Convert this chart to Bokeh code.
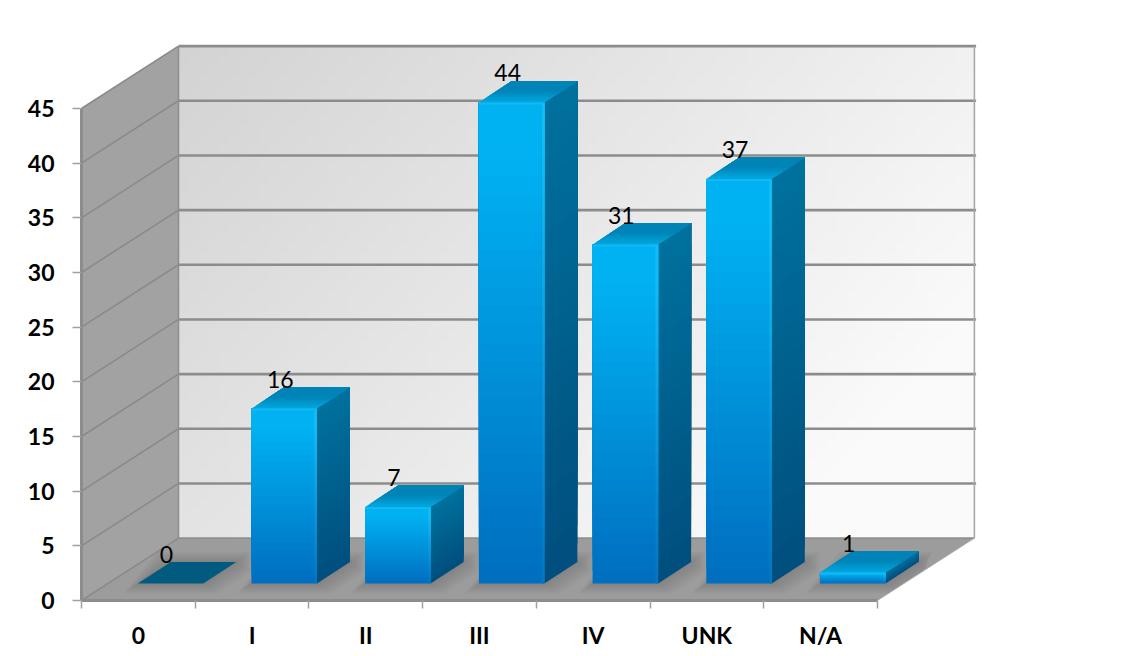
import numpy as np
from bokeh.models import ColumnDataSource, FixedTicker, Range1d
from bokeh.plotting import figure
from bokeh.embed import file_html
from bokeh.resources import INLINE
from bokeh.core.properties import value as fixed

categories = ["0", "I", "II", "III", "IV", "UNK", "N/A"]
values = [0, 16, 7, 44, 31, 37, 1]
y_ticks = [0, 5, 10, 15, 20, 25, 30, 35, 40, 45]

# layout of the oblique projection, expressed through the chart's own units
FRAME_W, FRAME_H = 1043, 592
PX_X, PX_Y = 113.7, 10.933
WALL_DX, WALL_DY = 97 / PX_X, 62.4 / PX_Y
BAR_W, BAR_DX, BAR_DY = 65.5 / PX_X, 33 / PX_X, 21.5 / PX_Y
BAR_BASE, BAR_OFFSET = 17 / PX_Y, 0.495
N = len(categories)
TOP = max(y_ticks)

p = figure(frame_width=FRAME_W, frame_height=FRAME_H, output_backend="svg", toolbar_location=None,
           x_range=Range1d(0, FRAME_W / PX_X), y_range=Range1d(0, FRAME_H / PX_Y),
           min_border_left=81, min_border_right=0, min_border_top=8, min_border_bottom=44,
           outline_line_color=None, background_fill_color="white", border_fill_color="white")
p.grid.visible = False


def mix(a, b, t):
    ca = [int(a[i:i + 2], 16) for i in (1, 3, 5)]
    cb = [int(b[i:i + 2], 16) for i in (1, 3, 5)]
    return "#%02x%02x%02x" % tuple(round(u + (v - u) * t) for u, v in zip(ca, cb))


# back wall, diagonal light-grey gradient
gx, gy = np.meshgrid(np.linspace(0, 1, 80), np.linspace(0, 1, 50))
shade = np.clip(0xe8 + 30 * (gx - 0.42) - 16 * (gy - 0.5), 0, 250).astype(np.uint32)
wall = (255 << 24) | (shade << 16) | (shade << 8) | shade
p.image_rgba(image=[wall], x=WALL_DX, y=WALL_DY, dw=N, dh=TOP)

# left wall
p.patch([0, WALL_DX, WALL_DX, 0], [0, WALL_DY, TOP + WALL_DY, TOP], fill_color="#a2a2a2", line_color=None)
# floor
p.patch([0, N, N + WALL_DX, WALL_DX], [0, 0, WALL_DY, WALL_DY], fill_color="#9c9c9c", line_color=None)

# soft shadows on the floor, kept inside the floor's right edge
for grow, alpha in ((14, 0.06), (11, 0.07), (8, 0.07), (5, 0.07), (2, 0.07)):
    gx_, gy_ = grow / PX_X, grow * 0.7 / PX_Y
    xs_, ys_ = [], []
    for i in range(N):
        x0 = i + BAR_OFFSET
        sx = [x0 - gx_, x0 + BAR_W + gx_, x0 + BAR_W + BAR_DX + gx_, x0 + BAR_W + BAR_DX + gx_, x0 + BAR_DX - gx_]
        sy = [BAR_BASE - gy_, BAR_BASE - gy_, BAR_BASE + BAR_DY - gy_, BAR_BASE + BAR_DY + gy_, BAR_BASE + BAR_DY + gy_]
        xs_.append([min(a, N + b / WALL_DY * WALL_DX) for a, b in zip(sx, sy)])
        ys_.append(sy)
    p.patches(xs_, ys_, fill_color="#555555", fill_alpha=alpha, line_color=None)

# grid lines on both walls
ticks = np.array(y_ticks, dtype=float)
p.segment(x0=[0] * len(ticks), y0=ticks, x1=[WALL_DX] * len(ticks), y1=ticks + WALL_DY,
          line_color="#8a8a8a", line_width=1.6)
p.segment(x0=[WALL_DX] * 9, y0=ticks[1:] + WALL_DY, x1=[WALL_DX + N + 0.015] * 9, y1=ticks[1:] + WALL_DY,
          line_color="#8c8c8c", line_width=2.6)
p.segment(x0=[WALL_DX], y0=[WALL_DY], x1=[WALL_DX + N], y1=[WALL_DY], line_color="#8f8f8f", line_width=1.6)
p.segment(x0=[WALL_DX], y0=[WALL_DY], x1=[WALL_DX], y1=[TOP + WALL_DY], line_color="#8f8f8f", line_width=1.6)
p.segment(x0=[WALL_DX + N], y0=[WALL_DY], x1=[WALL_DX + N], y1=[TOP + WALL_DY], line_color="#a8a8a8", line_width=1.6)
p.segment(x0=[N], y0=[0], x1=[N + WALL_DX], y1=[WALL_DY], line_color="#a8a8a8", line_width=1)

# bars
px, py, pc = [], [], []


def add(xs, ys, color):
    px.append(list(xs)); py.append(list(ys)); pc.append(color)


STEPS = 26
for i, v in enumerate(values):
    x0, x1 = i + BAR_OFFSET, i + BAR_OFFSET + BAR_W
    y0, y1 = BAR_BASE, BAR_BASE + v
    if v > 0:
        # side face
        for s in range(STEPS):
            f = s / STEPS
            yb = y0 + v * f
            add([x1, x1 + BAR_DX, x1 + BAR_DX, x1], [yb, yb + BAR_DY, y1 + BAR_DY, y1],
                mix("#004f7e", "#00729e", f))
        # front face
        for s in range(STEPS):
            f = s / STEPS
            yb = y0 + v * f
            add([x0, x1, x1, x0], [yb, yb, y1, y1], mix("#006fc0", "#00b2f2", min(1, f * 1.15)))
        # bevel down the right edge
        e = 2.5 / PX_X
        for s in range(STEPS):
            f = s / STEPS
            yb = y0 + v * f
            add([x1 - e, x1, x1, x1 - e], [yb, yb, y1, y1], mix("#0078c4", "#10bdf6", min(1, f * 1.15)))
        # top face
        for s in range(8):
            f = s / 8
            add([x0 + BAR_DX * f, x1 + BAR_DX * f, x1 + BAR_DX, x0 + BAR_DX],
                [y1 + BAR_DY * f, y1 + BAR_DY * f, y1 + BAR_DY, y1 + BAR_DY],
                mix("#00a4dc", "#0083b6", min(1, f * 2)))
        # lit edge at the front of the top
        h = 2 / PX_Y
        add([x0, x1, x1, x0], [y1 - h, y1 - h, y1, y1], "#12b9f2")
    else:
        add([x0, x1, x1 + BAR_DX, x0 + BAR_DX], [y1, y1, y1 + BAR_DY, y1 + BAR_DY], "#005b7f")
p.patches(px, py, fill_color=pc, line_color=None)

# value labels
label_src = ColumnDataSource(dict(
    x=[i + BAR_OFFSET + BAR_W / 2 - 4 / PX_X for i in range(N)],
    y=[BAR_BASE + v + BAR_DY + 8 / PX_Y for v in values],
    t=[str(v) for v in values]))
p.text(x="x", y="y", text="t", source=label_src, text_font=fixed("Lato"), text_font_size="23px",
       text_color="#000000", text_align="center", text_baseline="alphabetic")

# axes
ax = p.xaxis[0]
ax.bounds = (0, N)
centres = [i + 0.5 for i in range(N)]
ax.ticker = FixedTicker(ticks=centres, minor_ticks=list(range(N + 1)))
ax.major_label_overrides = {c: n for c, n in zip(centres, categories)}
ax.major_tick_out = 0
ax.major_tick_in = 0
ax.minor_tick_out = 8
ax.minor_tick_in = 0
ax.minor_tick_line_color = "#a0a0a0"
ax.minor_tick_line_width = 1.5
ax.axis_line_color = "#8c8c8c"
ax.axis_line_width = 3
ax.major_label_standoff = 12
ax.major_label_text_font = "Lato"
ax.major_label_text_font_style = "bold"
ax.major_label_text_font_size = "23px"
ax.major_label_text_color = "#000000"

ay = p.yaxis[0]
ay.bounds = (0, TOP)
ay.ticker = FixedTicker(ticks=y_ticks)
ay.major_tick_out = 9
ay.major_tick_in = 0
ay.minor_tick_out = 0
ay.major_tick_line_color = "#a0a0a0"
ay.major_tick_line_width = 1.5
ay.axis_line_color = "#8c8c8c"
ay.axis_line_width = 3
ay.major_label_standoff = 18
ay.major_label_text_font = "Lato"
ay.major_label_text_font_style = "bold"
ay.major_label_text_font_size = "23px"
ay.major_label_text_color = "#000000"

open("out.html", "w").write(file_html(p, INLINE))
